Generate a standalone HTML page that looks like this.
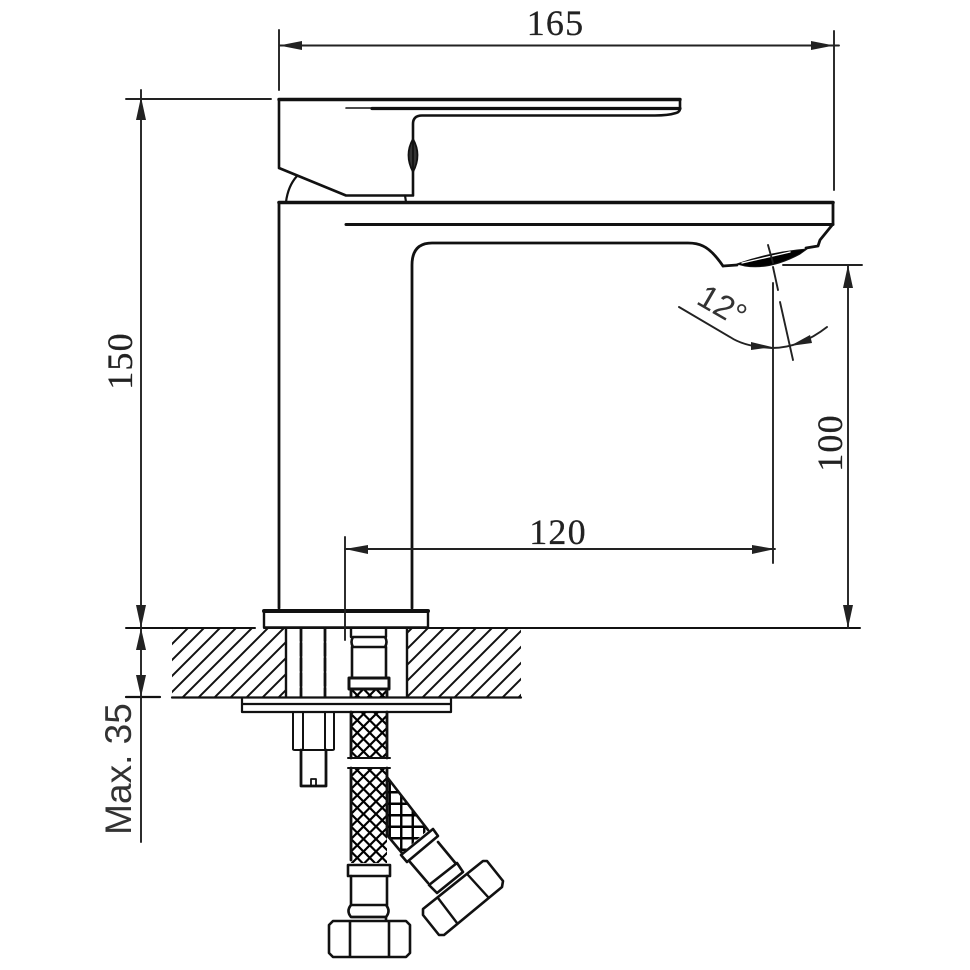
<!DOCTYPE html>
<html><head><meta charset="utf-8"><style>
html,body{margin:0;padding:0;background:#fff}
svg{display:block;filter:blur(0.35px)}
text{fill:#222}
.s{font-family:"Liberation Serif",serif;font-size:36px;letter-spacing:1.2px;stroke:#222;stroke-width:.25px}
</style></head><body>
<svg width="970" height="970" viewBox="0 0 970 970" xmlns="http://www.w3.org/2000/svg">
<defs>
<pattern id="h" width="16" height="16" patternUnits="userSpaceOnUse" x="172" y="628"><path d="M-2 18L18 -2M-2 2L2 -2M14 18L18 14" stroke="#111" stroke-width="2"/></pattern>
<pattern id="m" width="12.5" height="12.5" patternUnits="userSpaceOnUse" x="351" y="689"><path d="M-1 13.5L13.5 -1M-1 -1L13.5 13.5M-1 1L1 -1M11.5 13.5L13.5 11.5M-1 11.5L1 13.5M11.5 -1L13.5 1" stroke="#000" stroke-width="2.2"/></pattern>
<pattern id="m2" width="11.5" height="11.5" patternUnits="userSpaceOnUse" x="384" y="775"><path d="M0 5.75H11.5M5.75 0V11.5" stroke="#000" stroke-width="2.4"/></pattern>
</defs>
<rect width="970" height="970" fill="#fff"/>

<!-- counter hatch -->
<path d="M172 628H285V697H172ZM407 628H521V697H407Z" fill="url(#h)"/>
<g fill="none" stroke="#111" stroke-linejoin="round" stroke-linecap="round">
<!-- handle -->
<g stroke-width="2.8">
<path d="M279 168V99.5M680 99.5V108Q680 112 676 113Q668 115.5 655 115.5H422Q413 115.5 413 124V195.5H346L279 168" stroke-width="2.6"/>
<path d="M279 99.5H680" stroke-width="3.4"/>
<path d="M346 108H375" stroke-width="1.6"/>
<path d="M372 108.5H680" stroke-width="3.2"/>
<path d="M297 176Q288 186 286 202M405 195.5L406 202" stroke-width="2.2"/>
<path d="M413 139Q404 155 413 172Q422 155 413 139ZM413 139V172" stroke-width="1.8" fill="#333"/>
<!-- spout -->
<path d="M279 608V202.5H833V224L820 240L818 246L806 248" />
<path d="M279 202.5H833" stroke-width="3.6"/>
<path d="M346 224.5H833" stroke-width="3"/>
<path d="M723 266Q712 250 703 246Q697 243 688 243H432Q412 243 412 265V608"/>
<path d="M723 266L737 265"/>
</g>
<path d="M737 264Q770 252 807 249L800 254Q770 270 745 266Z" fill="#000" stroke-width="1"/>
<path d="M742 263L790 252" stroke="#fff" stroke-width="1.4"/>

<!-- base -->
<path d="M264 611H428V627.5H264Z" stroke-width="2.4"/>
<path d="M264 611H428" stroke-width="4"/>

<!-- counter outline -->
<path d="M126 628H255M428 628H860" stroke-width="2"/>
<path d="M264 628H428" stroke-width="2"/>
<path d="M172 697.5H521M126 697H160" stroke-width="2.2"/>
<path d="M286 628V697M407 628V697" stroke-width="2.4"/>
<path d="M301 628V697M325 628V697" stroke-width="2.8" stroke-dasharray="13 2"/>

<!-- plate -->
<path d="M242 698V712H451V698M242 704H451" stroke-width="2.2"/>

<!-- bolt -->
<path d="M293 712V749Q293 750 295 750H332Q334 750 334 749V712M303 712V750M325 712V750" stroke-width="2"/>
<path d="M301 750V786H326V750" stroke-width="2.8"/>
<path d="M311 786V779H316V786" stroke-width="1.8"/>
</g>

<!-- hose meshes -->
<rect x="351" y="689" width="36" height="8" fill="url(#m)"/>
<rect x="351" y="712" width="36" height="46" fill="url(#m)"/>
<rect x="351" y="768" width="36" height="95" fill="url(#m)"/>
<path d="M387 777L428 830L402 853L387 835Z" fill="url(#m2)"/>

<g fill="none" stroke="#111" stroke-linejoin="round" stroke-linecap="round" stroke-width="2">
<path d="M351 689V697M387 689V697M351 712V758M387 712V758M351 768V860M387 768V835" stroke-width="2.8"/>
<path d="M348 758H390M348 768H390" stroke-width="2"/>
<path d="M387 777L428 830M402 853L387 835" stroke-width="2.6"/>

<!-- upper fitting -->
<path d="M351 628V637M386 628V637" stroke-width="2.4"/>
<path d="M353 637H385Q388 642 385 647H353Q350 642 353 637Z" fill="#fff" stroke-width="2.6"/>
<path d="M352 647V678M386 647V678" stroke-width="2.6"/>
<path d="M349 678H389V689H349Z" fill="#fff" stroke-width="3"/>

<!-- lower fitting -->
<path d="M348 865H390V876H348Z" fill="#fff" stroke-width="2.6"/>
<path d="M351 876V905M387 876V905" stroke-width="2.6"/>
<path d="M351 905H386Q391 911 386 917H351Q346 911 351 905Z" fill="#fff" stroke-width="2.6"/>
<path d="M352 917H386V921" stroke-width="2.6"/>
<path d="M333 921H406L410 925V953L406 957H333L329 953V925ZM350 921V957M389 921V957" fill="#fff" stroke-width="2.6"/>

<!-- angled fitting -->
<path d="M433 829L438 836L407 862L401 855Z" fill="#fff" stroke-width="2.6"/>
<path d="M438 842L457 865M410 862L428 883" stroke-width="2.6"/>
<path d="M457 863L463 872L437 893L429 885Z" fill="#fff" stroke-width="2.6"/>
<path d="M483 861L487 861L503 881L502 887L444 935L439 935L423 915L423 909Z" fill="#fff" stroke-width="2.6"/>
<path d="M468 875L488 897M438 898L457 923" stroke-width="2.4"/>
</g>

<!-- dimensions -->
<g fill="none" stroke="#222" stroke-width="1.9" stroke-linecap="round">
<path d="M279 30V90M834 31V190M279 45.5H839"/>
<path d="M126 99H271M141 90V842"/>
<path d="M783 265H862M848 265V628"/>
<path d="M345 537V640"/>
<path d="M773 283V563M345 549H775"/>
<!-- angle -->
<path d="M679 307L730 337Q745 347 772 348Q800 348 827 327"/>
<path d="M768 245L773 263M773 267L778 290M780 302L793 360"/>
</g>
<g fill="#222" stroke="none">
<path d="M279 45.5L302 41V50ZM834 45.5L811 41V50Z"/>
<path d="M141 97L136 120H146ZM141 628L136 605H146ZM141 628L136 650H146ZM141 697L136 675H146Z"/>
<path d="M848 265L843 288H853ZM848 628L843 605H853Z"/>
<path d="M345 549L368 545V554ZM775 549L752 545V554Z"/>
<path d="M751 342L772 347L751 350Z"/>
<path d="M790 346L810 335L812 343Z"/>
</g>

<text class="s" x="555.5" y="35" text-anchor="middle">165</text>
<text class="s" x="558" y="544" text-anchor="middle">120</text>
<text class="s" transform="translate(132 361) rotate(-90)" text-anchor="middle">150</text>
<text class="s" transform="translate(842 443) rotate(-90)" text-anchor="middle">100</text>
<text transform="translate(131 769) rotate(-90)" text-anchor="middle" font-family="Liberation Sans, sans-serif" font-size="37" style="fill:#333">Max. 35</text>
<text transform="translate(695 303) rotate(30)" font-family="Liberation Sans, sans-serif" font-size="33" style="fill:#333">12°</text>
</svg>
</body></html>
